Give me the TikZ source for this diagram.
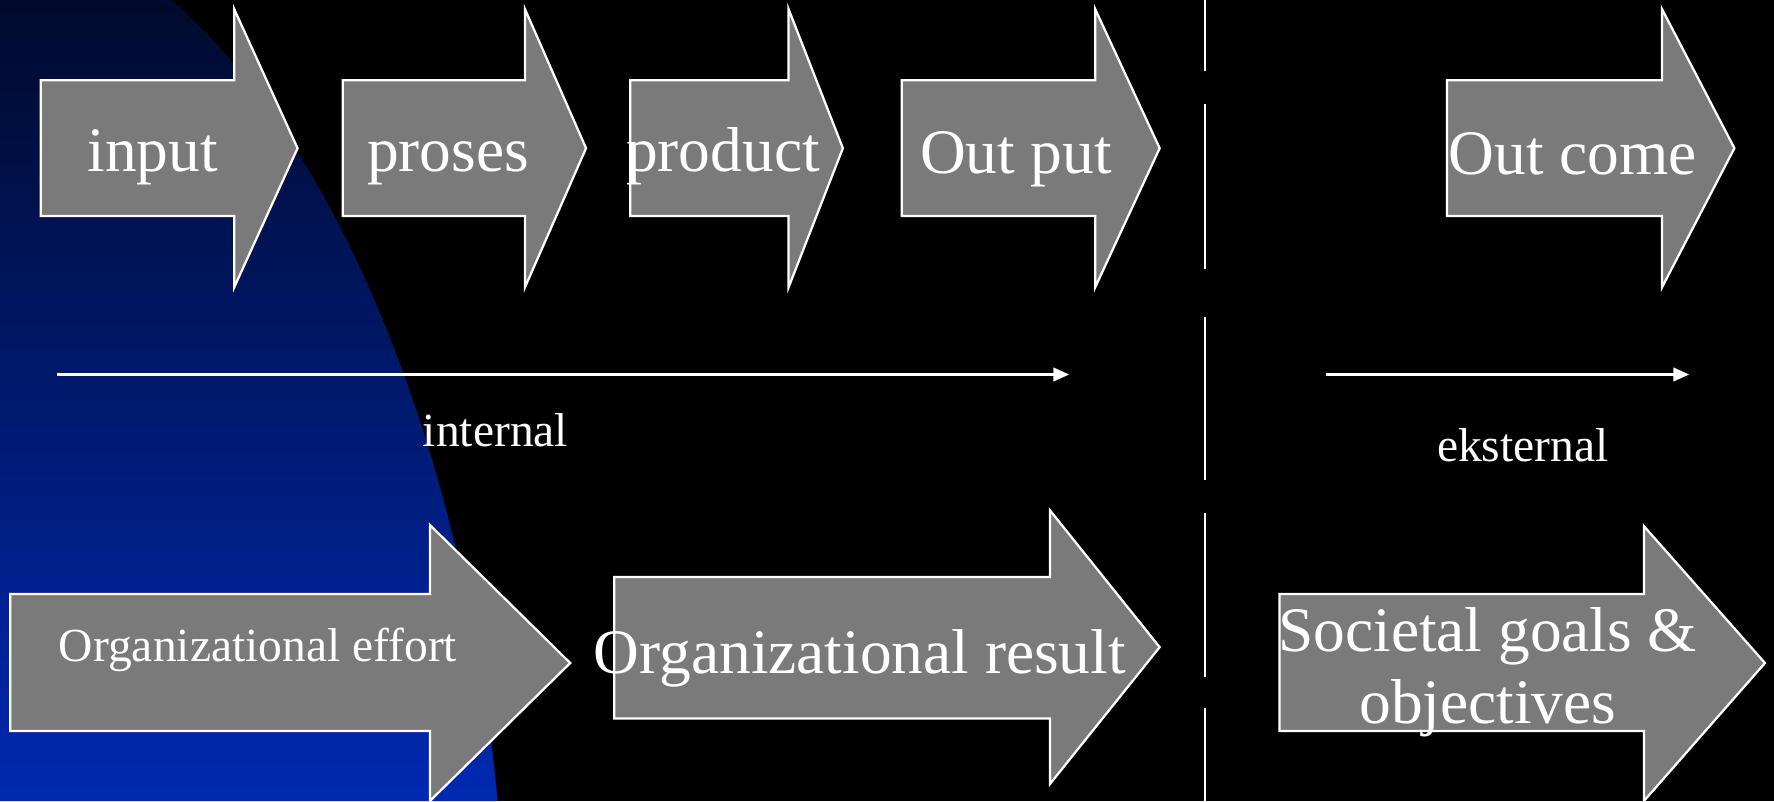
\documentclass[tikz,border=0pt]{standalone}
\usepackage{fontspec}
\setmainfont{Liberation Serif}
\usepackage{tikz}
\usetikzlibrary{arrows.meta,positioning}
\definecolor{navytop}{HTML}{000A2C}
\definecolor{navybot}{HTML}{0029B2}
\definecolor{boxgray}{HTML}{7A7A7A}
\tikzset{
    %Define standard arrow tip
    >={Triangle[length=7pt,width=6pt]},
    %Define style for the fat arrows
    fat/.style={
           fill=boxgray,
           draw=white, line width=1pt},
    biglabel/.style={
           text=white,
           anchor=base,
           font=\fontsize{28}{30}\selectfont,
           inner sep=0pt},
    smalllabel/.style={
           text=white,
           anchor=base,
           font=\fontsize{21}{24}\selectfont,
           inner sep=0pt},
    % Define arrow style
    pil/.style={
           ->,
           draw=white,
           line width=1pt}
}
% left, top, bottom, neck, head top, head bottom, tip x, tip y
\newcommand{\fatarrow}[8]{%
  \draw[fat] (#1,#2) -- (#4,#2) -- (#4,#5) -- (#7,#8) -- (#4,#6) -- (#4,#3) -- (#1,#3) -- cycle;}

\begin{document}
\begin{tikzpicture}[x=0.5pt,y=-0.5pt]
\useasboundingbox (0,0) rectangle (1568,708);
 %background
\fill[black] (0,0) rectangle (1568,708);
\shade[top color=navytop,bottom color=navybot]
  (0,0) -- (152,0) .. controls (300,130) and (410,400) .. (440,708) -- (0,708) -- cycle;
 %dashed border
\foreach \a/\b in {0/63,92/238,280/424,453/598,626/708}
  \draw[white, line width=1pt] (1065,\a) -- (1065,\b);
 %top row
\fatarrow{36}{71}{191}{207}{8}{254}{263}{131}
\fatarrow{303}{71}{191}{464}{8}{254}{518}{131}
\fatarrow{557}{71}{191}{697}{8}{254}{745}{131}
\fatarrow{797}{71}{191}{968}{8}{254}{1025}{131}
\fatarrow{1279}{71}{191}{1469}{8}{254}{1533}{131}
\node[biglabel](input) at (135,152){input};
\node[biglabel](proses) at (396,152){proses};
\node[biglabel](product) at (639,152){product};
\node[biglabel](output) at (898,153){Out put};
\node[biglabel](outcome) at (1390,154){Out come};
 %bottom row
\fatarrow{9}{525}{646}{380}{464}{708}{504}{586}
\fatarrow{543}{510}{635}{928}{451}{693}{1025}{572}
\fatarrow{1131}{525}{646}{1453}{465}{708}{1560}{586}
\node[smalllabel](effort) at (228,585){Organizational effort};
\node[biglabel](result) at (760,595){Organizational result};
\node[biglabel, anchor=center, align=center, font=\fontsize{28}{32}\selectfont](goals) at (1315,594){Societal goals \&\\objectives};
 %scope arrows
\coordinate (ia) at (50,331);
\coordinate (ib) at (945,331);
\coordinate (ea) at (1172,331);
\coordinate (eb) at (1493,331);
\draw[pil] (ia) -- (ib);
\draw[pil] (ea) -- (eb);
\node[smalllabel](internal) at (438,395){internal};
\node[smalllabel](eksternal) at (1346,408){eksternal};
\end{tikzpicture}
\end{document}
